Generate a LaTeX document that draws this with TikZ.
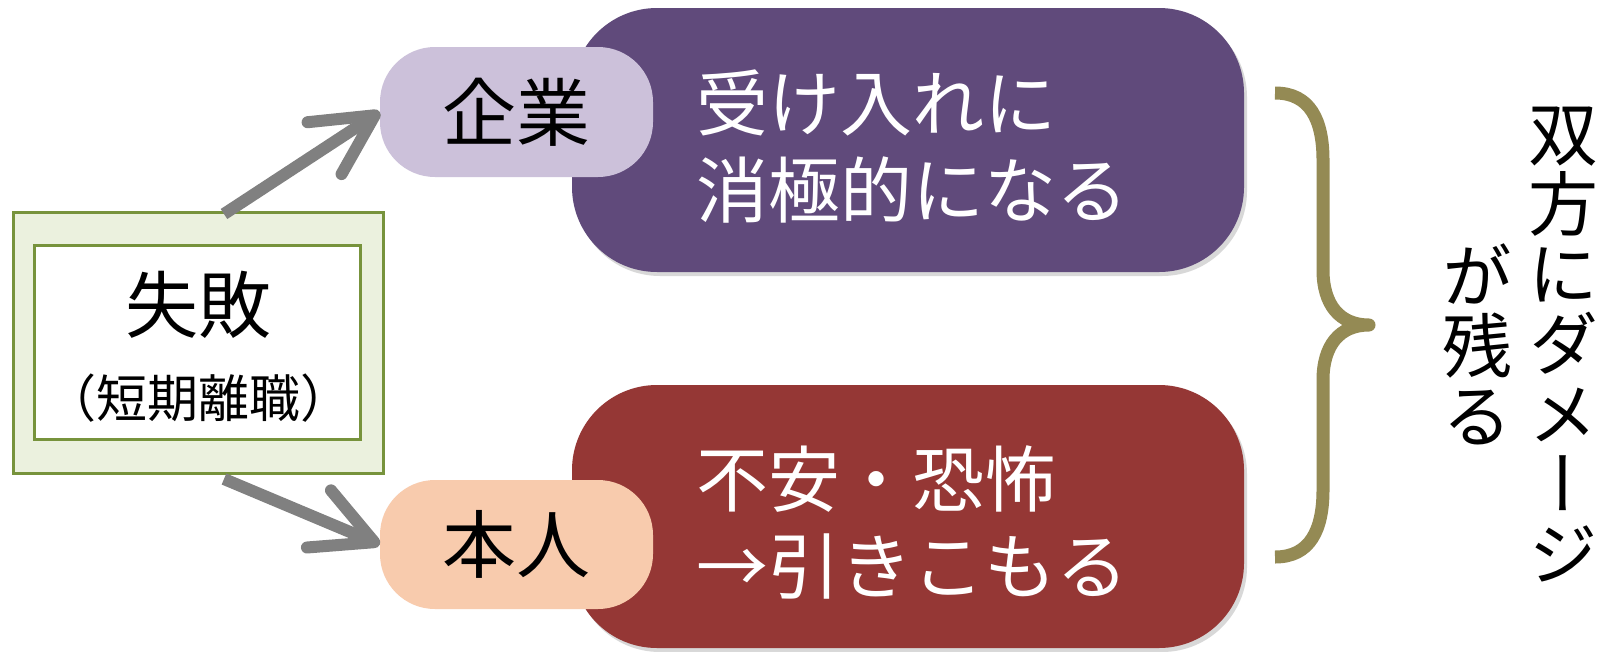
\documentclass[tikz,border=0pt]{standalone}
\usepackage{fontspec}
\newfontfamily\jp{Noto Sans CJK JP}
\newfontfamily\jpv[RawFeature=+vert]{Noto Sans CJK JP}
\usetikzlibrary{arrows.meta,shadows}
\definecolor{boxgreen}{HTML}{77933C}
\definecolor{boxgreenfill}{HTML}{EBF1DE}
\definecolor{arrowgray}{HTML}{808080}
\definecolor{lav}{HTML}{CCC1DA}
\definecolor{peach}{HTML}{F8CBAD}
\definecolor{purp}{HTML}{604A7B}
\definecolor{brick}{HTML}{953735}
\definecolor{olivebrace}{HTML}{948A54}
\tikzset{
  greenbox/.style={draw=boxgreen, line width=3pt, inner sep=0pt},
  bigbox/.style={rounded corners=85pt, inner sep=0pt,
    drop shadow={opacity=0.3, shadow xshift=3pt, shadow yshift=-4pt}},
  smallbox/.style={rounded corners=55pt, inner sep=0pt, minimum width=273pt, minimum height=130pt,
    font=\jp\fontsize{74}{86}\selectfont, text=black},
  whitetext/.style={text=white, align=left, inner sep=0pt, font=\jp\fontsize{72}{87}\selectfont},
  flowarrow/.style={draw=arrowgray, line width=12pt, -{Straight Barb[length=60pt, width=62pt, round]}},
  vtext/.style={align=center, inner sep=0pt, font=\jpv\fontsize{70}{70}\selectfont}
}
\begin{document}
\begin{tikzpicture}[x=1pt,y=-1pt]
\useasboundingbox[fill=white] (0,0) rectangle (1605,651);
% left boxes
\node[greenbox, fill=boxgreenfill, minimum width=370pt, minimum height=261pt] (outer) at (198.5,343) {};
\node[greenbox, fill=white, minimum width=326pt, minimum height=194pt] (inner) at (197.5,342.5) {};
\node[font=\jp\fontsize{73}{80}\selectfont, inner sep=0pt] (fail) at (198,305) {失敗};
\node[font=\jp\fontsize{51}{60}\selectfont, inner sep=0pt] (fail2) at (198,398) {（短期離職）};
% big boxes
\node[bigbox, fill=purp, minimum width=672pt, minimum height=264pt] (pbox) at (908,140) {};
\node[bigbox, fill=brick, minimum width=672pt, minimum height=263pt] (bbox) at (908,516.5) {};
\node[whitetext, anchor=west] (ptext) at (696,146) {受け入れに\\消極的になる};
\node[whitetext, anchor=west] (btext) at (696,522) {不安・恐怖\\→引きこもる};
% small boxes
\node[smallbox, fill=lav] (kigyo) at (516.5,112) {企業};
\node[smallbox, fill=peach, minimum height=129pt] (honnin) at (516.5,544.5) {本人};
% arrows
\coordinate (s1) at (224,214);
\coordinate (s2) at (224,479);
\draw[flowarrow] (s1) -- (kigyo.west);
\draw[flowarrow] (s2) -- (honnin.west);
% brace
\draw[olivebrace, line width=13pt, line join=round]
  (1275,93) .. controls (1310,93) and (1323,120) .. (1323,160) -- (1323,270)
  .. controls (1323,305) and (1340,325) .. (1369,325)
  .. controls (1340,325) and (1323,345) .. (1323,380) -- (1323,490)
  .. controls (1323,530) and (1310,557) .. (1275,557);
% vertical text
\node[vtext] (v1) at (1563,344) {双\\方\\に\\ダ\\メ\\ー\\ジ};
\node[vtext] (v2) at (1477,344) {が\\残\\る};
\end{tikzpicture}
\end{document}
